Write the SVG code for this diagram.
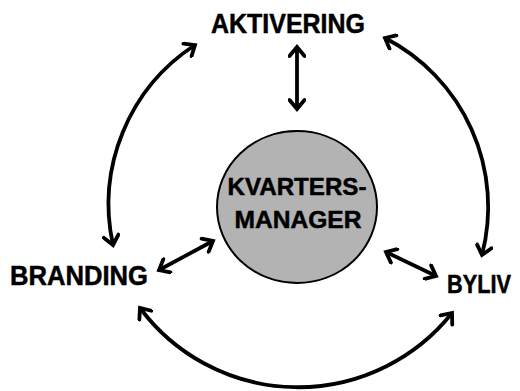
<svg xmlns="http://www.w3.org/2000/svg" width="520" height="391" viewBox="0 0 520 391">
<defs>
<marker id="ah" viewBox="-13 -9 16 18" markerWidth="16" markerHeight="18" refX="0" refY="0" orient="auto-start-reverse" markerUnits="userSpaceOnUse">
<path d="M-9,-7.5 L0,0 L-9,7.5" fill="none" stroke="#000" stroke-width="3.8" stroke-linecap="round" stroke-linejoin="miter"/>
</marker>
</defs>
<style>
.lbl{font-family:"Liberation Sans",Arial,sans-serif;font-weight:bold;fill:#000;stroke:#000;stroke-width:0.5}
.con{fill:none;stroke:#000;stroke-width:3.8;marker-start:url(#ah);marker-end:url(#ah)}
</style>
<rect width="520" height="391" fill="#fff"/>
<g id="connectors">
<path class="con" d="M297,47 L297,109"/>
<path class="con" d="M195,45 A190,190 0 0 0 113,245"/>
<path class="con" d="M385,38 A190,190 0 0 1 482,255"/>
<path class="con" d="M140,308 A197,197 0 0 0 452,313"/>
<path class="con" d="M159,270 L213,241"/>
<path class="con" d="M386,252 L436,276"/>
</g>
<g id="manager">
<ellipse cx="297" cy="207" rx="80" ry="76" fill="#b3b3b3" stroke="#000" stroke-width="2"/>
<text class="lbl" x="297" y="195" font-size="24" text-anchor="middle" textLength="139" lengthAdjust="spacingAndGlyphs">KVARTERS-</text>
<text class="lbl" x="298" y="228" font-size="24" text-anchor="middle" textLength="127" lengthAdjust="spacingAndGlyphs">MANAGER</text>
</g>
<g id="aktivering">
<text class="lbl" x="288" y="33" font-size="27" text-anchor="middle" textLength="154" lengthAdjust="spacingAndGlyphs">AKTIVERING</text>
</g>
<g id="branding">
<text class="lbl" x="79" y="285" font-size="27" text-anchor="middle" textLength="138" lengthAdjust="spacingAndGlyphs">BRANDING</text>
</g>
<g id="byliv">
<text class="lbl" x="479" y="293" font-size="25" text-anchor="middle" textLength="64" lengthAdjust="spacingAndGlyphs">BYLIV</text>
</g>
</svg>
